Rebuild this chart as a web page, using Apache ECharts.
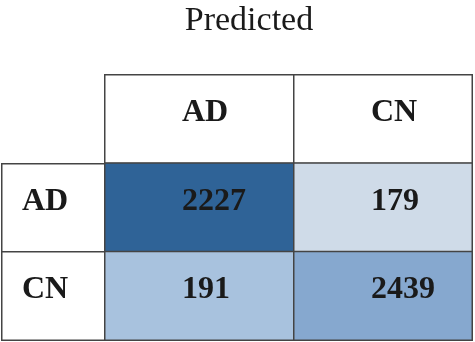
<!DOCTYPE html>
<html>
<head>
<meta charset="utf-8">
<script src="https://cdn.jsdelivr.net/npm/echarts@6/dist/echarts.min.js"></script>
<style>
  html, body { margin: 0; padding: 0; background: #ffffff; }
  #chart { width: 475px; height: 342px; }
</style>
</head>
<body>
<div id="chart"></div>
<script>
// ---- data ----
const titleText = 'Predicted';
const categories = ['AD', 'CN'];          // actual (rows) and predicted (columns)
const counts = [                          // counts[row][col]
  [2227, 179],
  [191, 2439]
];

// ---- styles ----
const cellColors = [
  ['#2f6397', '#cfdbe8'],
  ['#a8c2de', '#86a8cf']
];
const borderColor = '#444444';
const fontFamily = '"Liberation Serif", "Times New Roman", serif';

const chart = echarts.init(document.getElementById('chart'));

// column layout: label column, then one column per predicted class
const colLayout = [
  { left: 2, width: 103 },
  { left: 105, width: 189 },
  { left: 294, width: 178 }
];

const grids = [], xAxes = [], yAxes = [], series = [];

const labelStyle = (dx) => ({
  show: true,
  position: [dx, 39],
  align: 'left',
  verticalAlign: 'middle',
  fontFamily: fontFamily,
  fontWeight: 'bold',
  fontSize: 32,
  color: '#1a1a1a'
});
const itemBase = { borderColor: borderColor, borderWidth: 1.5 };

// grid 0: row labels
grids.push({ left: colLayout[0].left, width: colLayout[0].width, top: 164, bottom: 2 });
xAxes.push({ gridIndex: 0, type: 'category', data: [''], show: false });
yAxes.push({ gridIndex: 0, type: 'category', data: categories, inverse: true, show: false });
series.push({
  type: 'heatmap', xAxisIndex: 0, yAxisIndex: 0,
  data: categories.map((c, i) => ({
    value: [0, i, 0], name: c,
    itemStyle: Object.assign({ color: '#ffffff' }, itemBase)
  })),
  label: Object.assign(labelStyle(21), { formatter: (p) => p.name }),
  emphasis: { disabled: true }
});

// grids 1..n: one per predicted class column (header + counts)
categories.forEach((pred, j) => {
  const g = j + 1;
  grids.push({ left: colLayout[g].left, width: colLayout[g].width, top: 75, bottom: 2 });
  xAxes.push({ gridIndex: g, type: 'category', data: [pred], show: false });
  yAxes.push({ gridIndex: g, type: 'category', data: ['header'].concat(categories), inverse: true, show: false });
  const data = [{
    value: [0, 0, 0], name: pred,
    itemStyle: Object.assign({ color: '#ffffff' }, itemBase)
  }];
  categories.forEach((act, i) => {
    data.push({
      value: [0, i + 1, counts[i][j]], name: String(counts[i][j]),
      itemStyle: Object.assign({ color: cellColors[i][j] }, itemBase)
    });
  });
  series.push({
    type: 'heatmap', xAxisIndex: g, yAxisIndex: g,
    data: data,
    label: Object.assign(labelStyle(78), { formatter: (p) => p.name }),
    emphasis: { disabled: true }
  });
});

chart.setOption({
  animation: false,
  backgroundColor: '#ffffff',
  grid: grids,
  xAxis: xAxes,
  yAxis: yAxes,
  series: series,
  graphic: [{
    type: 'text',
    x: 249, y: 21,
    style: {
      text: titleText,
      fontFamily: fontFamily,
      fontSize: 34,
      fill: '#1a1a1a',
      align: 'center',
      verticalAlign: 'middle'
    }
  }]
});
</script>
</body>
</html>
